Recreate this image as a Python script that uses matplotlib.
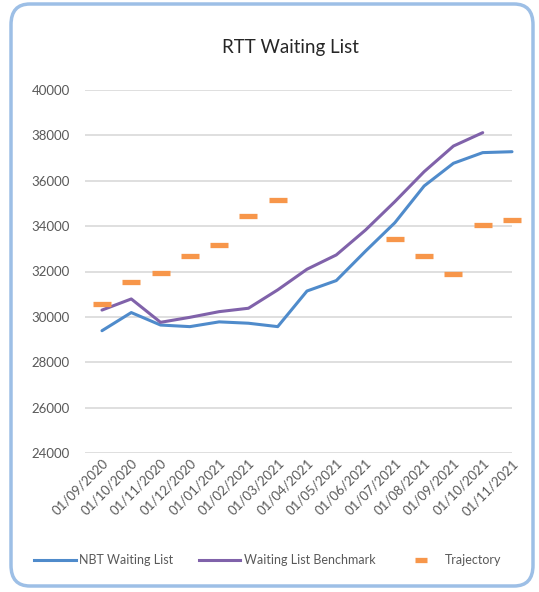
import numpy as np
import matplotlib
matplotlib.use("Agg")
import matplotlib.pyplot as plt
from matplotlib.patches import FancyBboxPatch
from matplotlib.lines import Line2D

dates = ["01/09/2020", "01/10/2020", "01/11/2020", "01/12/2020", "01/01/2021",
         "01/02/2021", "01/03/2021", "01/04/2021", "01/05/2021", "01/06/2021",
         "01/07/2021", "01/08/2021", "01/09/2021", "01/10/2021", "01/11/2021"]
nbt = [29390, 30190, 29640, 29570, 29780, 29720, 29570, 31140, 31600, 32900,
       34150, 35770, 36770, 37240, 37280]
benchmark = [30300, 30790, 29760, 29980, 30230, 30380, 31190, 32100, 32730, 33830,
             35080, 36400, 37530, 38120, np.nan]
trajectory = [30570, 31550, 31920, 32700, 33170, 34450, 35150, np.nan, np.nan, np.nan,
              33420, 32700, 31890, 34050, 34260]

plt.rcParams['font.family'] = ['Lato', 'DejaVu Sans']

fig = plt.figure(figsize=(5.39, 5.92), dpi=100)
W, H = 539, 592

# rounded border
border = FancyBboxPatch((11 / W, 6 / H), (522) / W, (582) / H,
                        boxstyle="round,pad=0,rounding_size=0.035",
                        transform=fig.transFigure, facecolor='none',
                        edgecolor='#9DBFE6', linewidth=2.5, zorder=-1)
fig.patches.append(border)

ax = fig.add_axes([85 / W, 1 - 453 / H, (512 - 85) / W, (453 - 90) / H])
ax.set_facecolor('none')
x = np.arange(len(dates))

blue = '#4F8BCB'
purple = '#8062AA'
orange = '#F7964A'

ax.plot(x, nbt, color=blue, lw=2.2, clip_on=False, zorder=3, solid_capstyle='round')
ax.plot(x, benchmark, color=purple, lw=2.2, clip_on=False, zorder=3, solid_capstyle='round')
ax.plot(x, trajectory, linestyle='none', marker='_', markersize=13, markeredgewidth=3.8,
        color=orange, clip_on=False, zorder=4)

ax.set_ylim(24000, 40000)
ax.set_yticks(np.arange(24000, 40001, 2000))
ax.set_xlim(-0.58, 13.95)
ax.set_xticks(x)
ax.set_xticklabels(dates, rotation=45, ha='right', va='top', rotation_mode='anchor')
ax.grid(axis='y', color='#D9D9D9', lw=1.2)
ax.grid(axis='x', visible=False)
for s in ax.spines.values():
    s.set_visible(False)
ax.tick_params(axis='both', length=0, colors='#595959', labelsize=9.5)
ax.tick_params(axis='y', pad=11)
ax.tick_params(axis='x', pad=3)
ax.set_axisbelow(True)

fig.text(290 / W, 1 - 47 / H, "RTT Waiting List", ha='center', va='center',
         fontsize=13.5, color='#262626')

handles = [Line2D([], [], color=blue, lw=2.2),
           Line2D([], [], color=purple, lw=2.2),
           Line2D([], [], linestyle='none', marker='_', markersize=8, markeredgewidth=3.8, color=orange)]
leg = fig.legend(handles, ["NBT Waiting List", "Waiting List Benchmark", "Trajectory"],
                 loc='center', bbox_to_anchor=(268 / W, 1 - 560 / H), ncol=3, frameon=False,
                 fontsize=9, handlelength=3.3, columnspacing=2.0, handletextpad=0.3)
for t in leg.get_texts():
    t.set_color('#595959')

fig.savefig("out.png", dpi=100)
